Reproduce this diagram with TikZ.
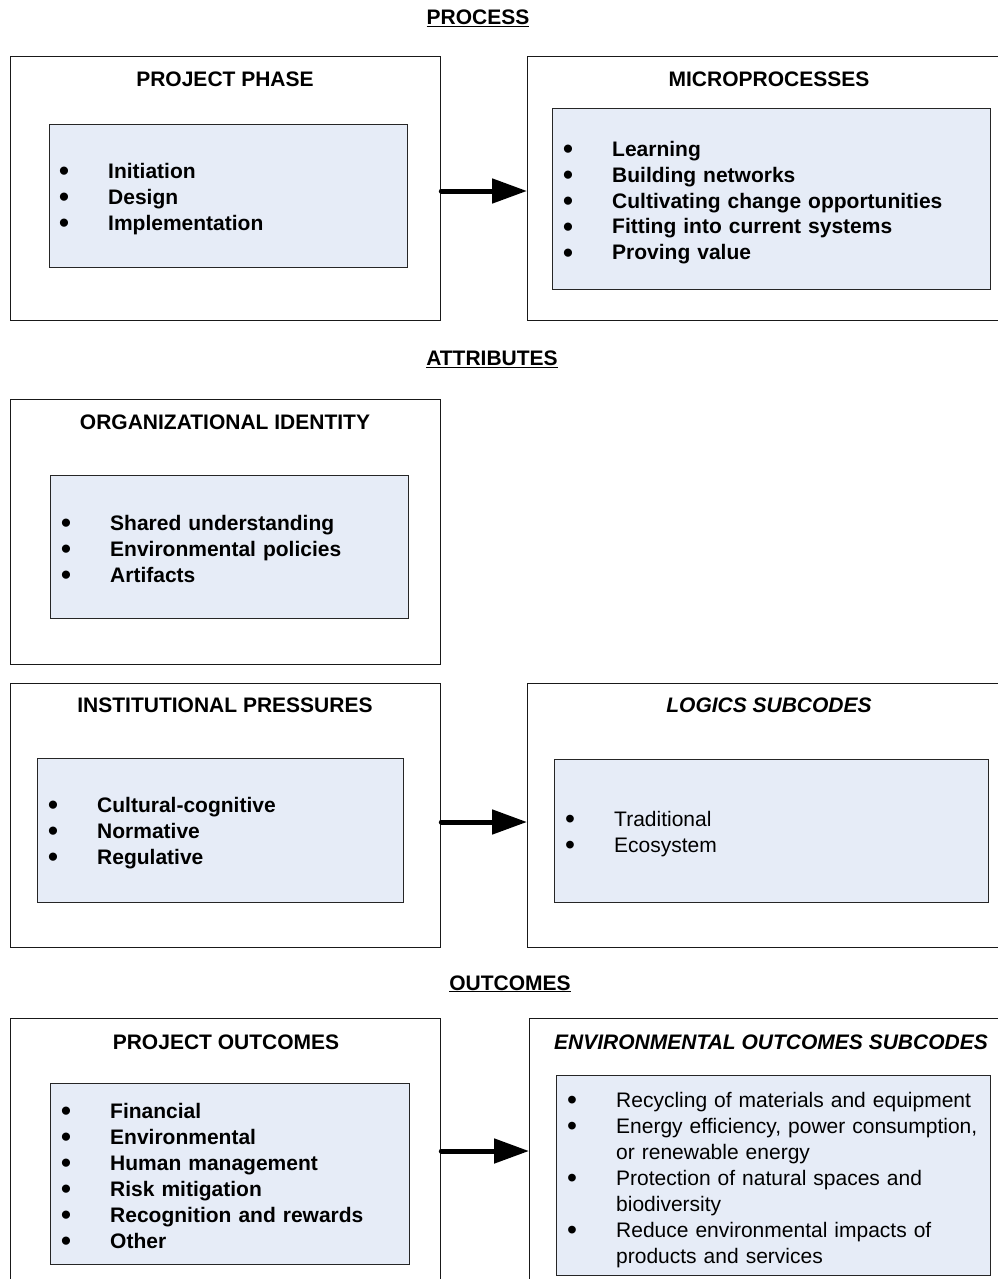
\documentclass[tikz,border=0pt]{standalone}
\usepackage{fontspec}
\setmainfont{Liberation Sans}
\usetikzlibrary{arrows.meta}

\definecolor{paleblue}{HTML}{E6ECF7}
% one bullet line, hanging indent for wrapped lines
\newcommand{\bul}[1]{\par\noindent\hangindent=49pt\hangafter=1\strut\makebox[49pt][l]{\raisebox{-2.6pt}{\scalebox{1.35}{\textbullet}}}#1\par}

\tikzset{
  outerbox/.style={draw=black!90, line width=1.3pt, anchor=north west, inner sep=0pt},
  innerbox/.style={draw=black!85, fill=paleblue, line width=1.3pt, anchor=north west, inner sep=0pt},
  boxtitle/.style={inner sep=0pt, font=\fontsize{21}{26}\selectfont\bfseries},
  itemlist/.style={anchor=north west, inner sep=0pt, text width=430pt, align=left, font=\fontsize{21}{26}\selectfont\bfseries},
  heading/.style={anchor=base, inner sep=0pt, font=\fontsize{21}{26}\selectfont\bfseries},
  bigarrow/.style={line width=5pt, line cap=round, -{Triangle[length=35pt,width=24pt]}}
}

\begin{document}
\begin{tikzpicture}[x=1pt, y=-1pt]
  \useasboundingbox (0,0) rectangle (998,1279);
  \clip (0,0) rectangle (998,1279);

  % Process
  \node[heading] (proc) at (478,25) {\underline{PROCESS}};
  \node[outerbox, minimum width=430, minimum height=264] (pp) at (10,56) {};
  \node[innerbox, minimum width=358, minimum height=143] (ppin) at (49,124) {};
  \node[boxtitle] (ppt) at (225,79) {PROJECT PHASE};
  \node[itemlist] (ppl) at (59,151.8) {\bul{Initiation}\bul{Design}\bul{Implementation}};

  \node[outerbox, minimum width=483, minimum height=264] (mp) at (527,56) {};
  \node[innerbox, minimum width=438, minimum height=181] (mpin) at (552,108) {};
  \node[boxtitle] (mpt) at (769,79) {MICROPROCESSES};
  \node[itemlist] (mpl) at (563,129.8) {\bul{Learning}\bul{Building networks}\bul{Cultivating change opportunities}\bul{Fitting into current systems}\bul{Proving value}};

  \draw[bigarrow] (pp.east |- 0,191) -- (mp.west |- 0,191);

  % Attributes
  \node[heading] (attr) at (492,365.5) {\underline{ATTRIBUTES}};
  \node[outerbox, minimum width=430, minimum height=265] (oi) at (10,399) {};
  \node[innerbox, minimum width=358, minimum height=143] (oiin) at (50,475) {};
  \node[boxtitle] (oit) at (225,422) {ORGANIZATIONAL IDENTITY};
  \node[itemlist] (oil) at (61,503.8) {\bul{Shared understanding}\bul{Environmental policies}\bul{Artifacts}};

  \node[outerbox, minimum width=430, minimum height=264] (ip) at (10,683) {};
  \node[innerbox, minimum width=366, minimum height=144] (ipin) at (37,758) {};
  \node[boxtitle] (ipt) at (225,705) {INSTITUTIONAL PRESSURES};
  \node[itemlist] (ipl) at (48,785.8) {\bul{Cultural-cognitive}\bul{Normative}\bul{Regulative}};

  \node[outerbox, minimum width=483, minimum height=264] (lg) at (527,683) {};
  \node[innerbox, minimum width=434, minimum height=143] (lgin) at (554,759) {};
  \node[boxtitle, font=\fontsize{21}{26}\selectfont\bfseries\itshape] (lgt) at (769,705) {LOGICS SUBCODES};
  \node[itemlist, font=\fontsize{21}{26}\selectfont] (lgl) at (565,799.8) {\bul{Traditional}\bul{Ecosystem}};

  \draw[bigarrow] (ip.east |- 0,822) -- (lg.west |- 0,822);

  % Outcomes
  \node[heading] (outc) at (510,990) {\underline{OUTCOMES}};
  \node[outerbox, minimum width=430, minimum height=300] (po) at (10,1018) {};
  \node[innerbox, minimum width=359, minimum height=181] (poin) at (50,1083) {};
  \node[boxtitle] (pot) at (226,1042) {PROJECT OUTCOMES};
  \node[itemlist] (pol) at (61,1091.8) {\bul{Financial}\bul{Environmental}\bul{Human management}\bul{Risk mitigation}\bul{Recognition and rewards}\bul{Other}};

  \node[outerbox, minimum width=483, minimum height=300] (eo) at (529,1018) {};
  \node[innerbox, minimum width=434, minimum height=200] (eoin) at (556,1075) {};
  \node[boxtitle, font=\fontsize{21}{26}\selectfont\bfseries\itshape] (eot) at (771,1042) {ENVIRONMENTAL OUTCOMES SUBCODES};
  \node[itemlist, font=\fontsize{21}{26}\selectfont] (eol) at (567,1080.8) {\bul{Recycling of materials and equipment}\bul{Energy efficiency, power consumption,\newline or renewable energy}\bul{Protection of natural spaces and\newline biodiversity}\bul{Reduce environmental impacts of\newline products and services}};

  \draw[bigarrow] (po.east |- 0,1151) -- (eo.west |- 0,1151);
\end{tikzpicture}
\end{document}
